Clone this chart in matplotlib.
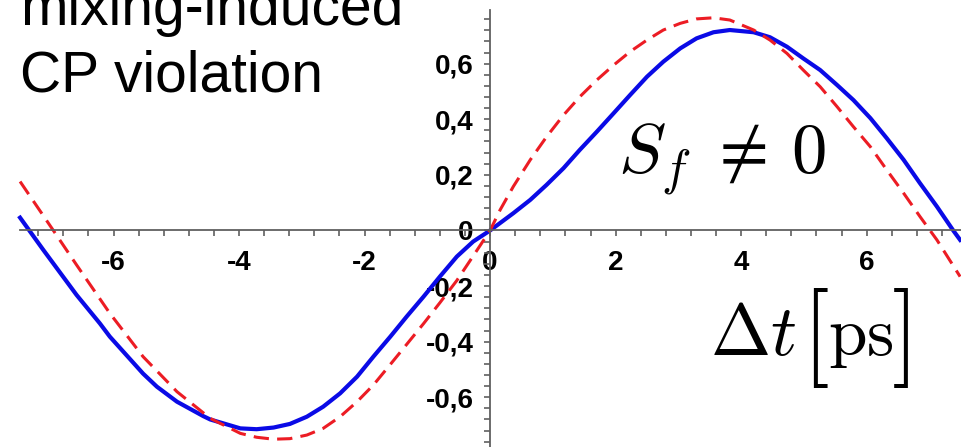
import matplotlib.pyplot as plt
from matplotlib.ticker import FixedLocator, FuncFormatter

# Curve values (delta t in ps, asymmetry)
blue_t = [-7.49, -7.12, -6.59, -6.22, -6.06, -5.53, -5.31, -4.99, -4.57, -4.46, -3.98, -3.72, -3.45,
          -3.19, -2.92, -2.66, -2.39, -2.12, -1.86, -1.59, -1.33, -1.06, -0.80,
          -0.53, -0.27, 0.0, 0.37, 0.64, 0.90, 1.17, 1.43, 1.70, 1.97,
          2.23, 2.50, 2.76, 3.03, 3.29, 3.56, 3.82, 4.20, 4.46, 4.73,
          4.99, 5.26, 5.53, 5.79, 6.06, 6.32, 6.59, 6.85, 7.12, 7.38, 7.49]
blue_a = [0.046, -0.070, -0.232, -0.334, -0.382, -0.515, -0.562, -0.616, -0.668, -0.680, -0.712, -0.715, -0.709,
          -0.696, -0.670, -0.634, -0.586, -0.526, -0.454, -0.382, -0.310, -0.238, -0.166,
          -0.094, -0.040, 0.0, 0.062, 0.110, 0.164, 0.224, 0.290, 0.355, 0.422,
          0.487, 0.553, 0.607, 0.655, 0.691, 0.713, 0.721, 0.713, 0.695, 0.661,
          0.619, 0.577, 0.523, 0.469, 0.404, 0.332, 0.254, 0.170, 0.086, 0.0, -0.034]

red_t = [-7.49, -6.96, -6.59, -6.06, -5.53, -4.99, -4.46, -3.98, -3.72, -3.45,
         -3.19, -2.92, -2.66, -2.39, -2.12, -1.86, -1.59, -1.33, -1.06, -0.80,
         -0.53, -0.27, 0.0, 0.16, 0.37, 0.64, 0.90, 1.17, 1.43, 1.70,
         1.97, 2.23, 2.50, 2.76, 3.03, 3.29, 3.56, 3.82, 4.20, 4.46,
         4.73, 4.99, 5.26, 5.53, 5.79, 6.06, 6.32, 6.59, 6.85, 7.12, 7.49]
red_a = [0.176, 0.0, -0.124, -0.298, -0.454, -0.580, -0.676, -0.730, -0.744, -0.751,
         -0.749, -0.736, -0.712, -0.670, -0.616, -0.556, -0.482, -0.410, -0.335, -0.260,
         -0.180, -0.092, 0.0, 0.074, 0.158, 0.254, 0.337, 0.415, 0.481, 0.541,
         0.595, 0.643, 0.685, 0.721, 0.745, 0.761, 0.765, 0.757, 0.721, 0.685,
         0.637, 0.577, 0.517, 0.445, 0.373, 0.301, 0.218, 0.134, 0.050, -0.034, -0.166]

x_major = [-6, -4, -2, 0, 2, 4, 6]
y_major = [-0.6, -0.4, -0.2, 0.0, 0.2, 0.4, 0.6]
x_minor = [i * 0.4 for i in range(-18, 19)]
y_minor = [i * 0.04 for i in range(-19, 20)]

plt.rcParams["mathtext.fontset"] = "cm"

fig = plt.figure(figsize=(9.62, 4.47), dpi=100)
ax = fig.add_axes([0, 0, 1, 1])
ax.set_xlim(-7.81, 7.52)
ax.set_ylim(-0.779, 0.829)

ax.plot(blue_t, blue_a, color="#0a0ae6", lw=3.0)
ax.plot(red_t, red_a, color="#ec1c24", lw=2.2, dashes=(5, 2.7))

# axes crossing at the origin
for s in ["top", "right"]:
    ax.spines[s].set_visible(False)
ax.spines["left"].set_position(("data", 0))
ax.spines["bottom"].set_position(("data", 0))
ax.spines["bottom"].set_bounds(-7.49, 7.52)
ax.spines["left"].set_bounds(-0.779, 0.793)
for s in ["left", "bottom"]:
    ax.spines[s].set_color("#606060")
    ax.spines[s].set_linewidth(1.3)

ax.xaxis.set_major_locator(FixedLocator(x_major))
ax.yaxis.set_major_locator(FixedLocator(y_major))
ax.xaxis.set_minor_locator(FixedLocator(x_minor))
ax.yaxis.set_minor_locator(FixedLocator(y_minor))
ax.xaxis.set_major_formatter(FuncFormatter(lambda v, p: "%d" % round(v)))
ax.yaxis.set_major_formatter(
    FuncFormatter(lambda v, p: "0" if abs(v) < 1e-9 else ("%.1f" % v).replace(".", ",")))

ax.tick_params(which="both", direction="out", color="#606060", width=1.2, length=4)
ax.tick_params(axis="x", which="major", pad=10)
ax.tick_params(axis="y", which="major", pad=8)
for lab in ax.get_xticklabels() + ax.get_yticklabels():
    lab.set_fontfamily("Liberation Sans")
    lab.set_fontweight("bold")
    lab.set_fontsize(20)

# annotations
fig.text(20 / 962, 1 - 25 / 447, "mixing-induced", fontsize=41,
         family="Liberation Sans", va="baseline", ha="left")
fig.text(20 / 962, 1 - 92 / 447, "CP violation", fontsize=41,
         family="Liberation Sans", va="baseline", ha="left")

fig.text(618 / 962, 1 - 173 / 447, r"$S_f\;\neq\,0$", fontsize=51,
         va="baseline", ha="left")
fig.text(710 / 962, 1 - 355 / 447, r"$\Delta t$", fontsize=52,
         va="baseline", ha="left")
fig.text(801 / 962, 1 - 338 / 447, r"$[$", fontsize=72, va="center", ha="left")
fig.text(828 / 962, 1 - 355 / 447, r"$\mathrm{ps}$", fontsize=50,
         va="baseline", ha="left")
fig.text(909 / 962, 1 - 338 / 447, r"$]$", fontsize=72, va="center", ha="right")

plt.savefig("out.png", dpi=100)
